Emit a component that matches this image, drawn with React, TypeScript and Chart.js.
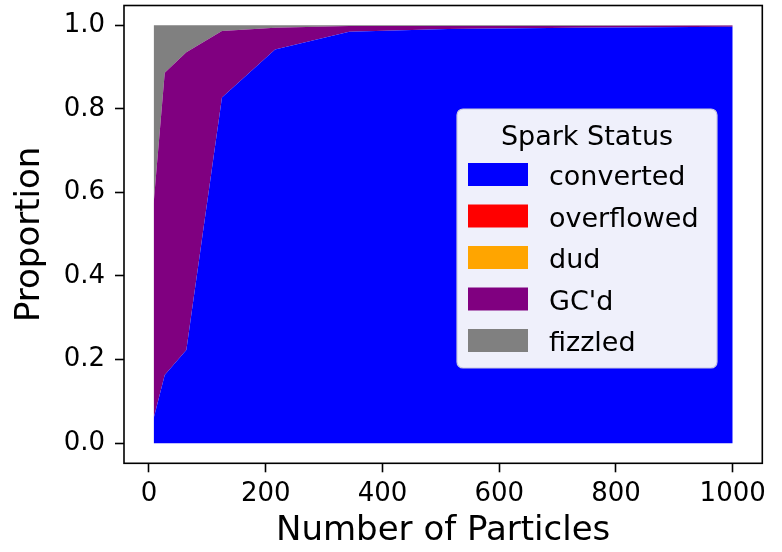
import React, { useEffect, useRef } from "react";
import { Chart, registerables } from "chart.js";

Chart.register(...registerables);

const particles = [8, 27, 64, 125, 216, 343, 512, 729, 1000];
const converted = [0.06, 0.163, 0.223, 0.827, 0.942, 0.984, 0.991, 0.994, 0.996];
const overflowed = [0, 0, 0, 0, 0, 0, 0, 0, 0];
const dud = [0, 0, 0, 0, 0, 0, 0, 0, 0];
const gcd = [0.514, 0.723, 0.712, 0.159, 0.052, 0.014, 0.007, 0.004, 0.003];
const fizzled = [0.426, 0.114, 0.065, 0.014, 0.006, 0.002, 0.002, 0.002, 0.001];

const seriesLabels = ["converted", "overflowed", "dud", "GC'd", "fizzled"];
const seriesColors = ["#0000ff", "#ff0000", "#ffa500", "#800080", "#808080"];
const seriesValues = [converted, overflowed, dud, gcd, fizzled];

const xTicks = [0, 200, 400, 600, 800, 1000];
const yTicks = [0, 0.2, 0.4, 0.6, 0.8, 1.0];

const legendTitle = "Spark Status";
const xTitle = "Number of Particles";
const yTitle = "Proportion";

const FONT = "'DejaVu Sans', sans-serif";

const framePlugin = {
  id: "frame",
  afterDraw(chart: any) {
    const { ctx, chartArea } = chart;
    ctx.save();
    ctx.strokeStyle = "#000";
    ctx.lineWidth = 1.6;
    ctx.strokeRect(chartArea.left, chartArea.top, chartArea.right - chartArea.left, chartArea.bottom - chartArea.top);
    ctx.restore();
  },
};

const legendPlugin = {
  id: "innerLegend",
  afterDraw(chart: any) {
    const { ctx } = chart;
    const x0 = 457, y0 = 109, w = 260, h = 259, r = 6;
    ctx.save();
    ctx.beginPath();
    ctx.moveTo(x0 + r, y0);
    ctx.arcTo(x0 + w, y0, x0 + w, y0 + h, r);
    ctx.arcTo(x0 + w, y0 + h, x0, y0 + h, r);
    ctx.arcTo(x0, y0 + h, x0, y0, r);
    ctx.arcTo(x0, y0, x0 + w, y0, r);
    ctx.closePath();
    ctx.fillStyle = "#eff0fb";
    ctx.fill();
    ctx.strokeStyle = "#c8c8e0";
    ctx.lineWidth = 1.2;
    ctx.stroke();

    ctx.fillStyle = "#000";
    ctx.font = `27px ${FONT}`;
    ctx.textAlign = "center";
    ctx.textBaseline = "alphabetic";
    ctx.fillText(legendTitle, x0 + w / 2, 145);

    ctx.textAlign = "left";
    chart.data.datasets.forEach((ds: any, i: number) => {
      const base = 185 + i * 41.5;
      ctx.fillStyle = ds.backgroundColor;
      ctx.fillRect(468, base - 22, 60, 23);
      ctx.fillStyle = "#000";
      ctx.fillText(ds.label, 549, base);
    });
    ctx.restore();
  },
};

export default function App() {
  const ref = useRef<HTMLCanvasElement>(null);
  useEffect(() => {
    document.body.style.margin = "0";
    const canvas = ref.current!;
    const chart = new Chart(canvas, {
      type: "line",
      data: {
        datasets: seriesLabels.map((label, i) => ({
          label,
          data: particles.map((x, j) => ({ x, y: seriesValues[i][j] })),
          backgroundColor: seriesColors[i],
          borderColor: seriesColors[i],
          borderWidth: 0,
          pointRadius: 0,
          tension: 0,
          fill: i === 0 ? "origin" : "-1",
        })),
      },
      options: {
        animation: false,
        responsive: false,
        maintainAspectRatio: false,
        layout: { padding: { left: 0, right: 19.7, top: 5.5, bottom: 0 } },
        plugins: {
          legend: { display: false },
          tooltip: { enabled: false },
        },
        scales: {
          x: {
            type: "linear",
            min: -42.8,
            max: 1050.7,
            afterBuildTicks: (scale: any) => {
              scale.ticks = xTicks.map((v) => ({ value: v }));
            },
            afterFit: (scale: any) => {
              scale.height = 88.7;
              scale.paddingLeft = 0;
              scale.paddingRight = 0;
            },
            grid: {
              drawOnChartArea: false,
              drawTicks: true,
              tickLength: 9,
              tickWidth: 1.6,
              tickColor: "#000",
            },
            border: { display: false },
            ticks: {
              color: "#000",
              font: { family: FONT, size: 26 },
              padding: 6,
              maxRotation: 0,
              autoSkip: false,
              callback: (v: any) => String(v),
            },
            title: {
              display: true,
              text: xTitle,
              color: "#000",
              font: { family: FONT, size: 34 },
              padding: { top: 0, bottom: 0 },
            },
          },
          y: {
            type: "linear",
            stacked: true,
            min: -0.048,
            max: 1.047,
            afterBuildTicks: (scale: any) => {
              scale.ticks = yTicks.map((v) => ({ value: v }));
            },
            afterFit: (scale: any) => {
              scale.width = 124;
              scale.paddingTop = 0;
              scale.paddingBottom = 0;
            },
            grid: {
              drawOnChartArea: false,
              drawTicks: true,
              tickLength: 9,
              tickWidth: 1.6,
              tickColor: "#000",
            },
            border: { display: false },
            ticks: {
              color: "#000",
              font: { family: FONT, size: 26 },
              padding: 10,
              autoSkip: false,
              callback: (v: any) => Number(v).toFixed(1),
            },
            title: {
              display: true,
              text: yTitle,
              color: "#000",
              font: { family: FONT, size: 34 },
              padding: { top: 10, bottom: 0 },
            },
          },
        },
      },
      plugins: [framePlugin, legendPlugin],
    });
    return () => chart.destroy();
  }, []);
  return <canvas ref={ref} width={782} height={552} style={{ display: "block" }} />;
}
